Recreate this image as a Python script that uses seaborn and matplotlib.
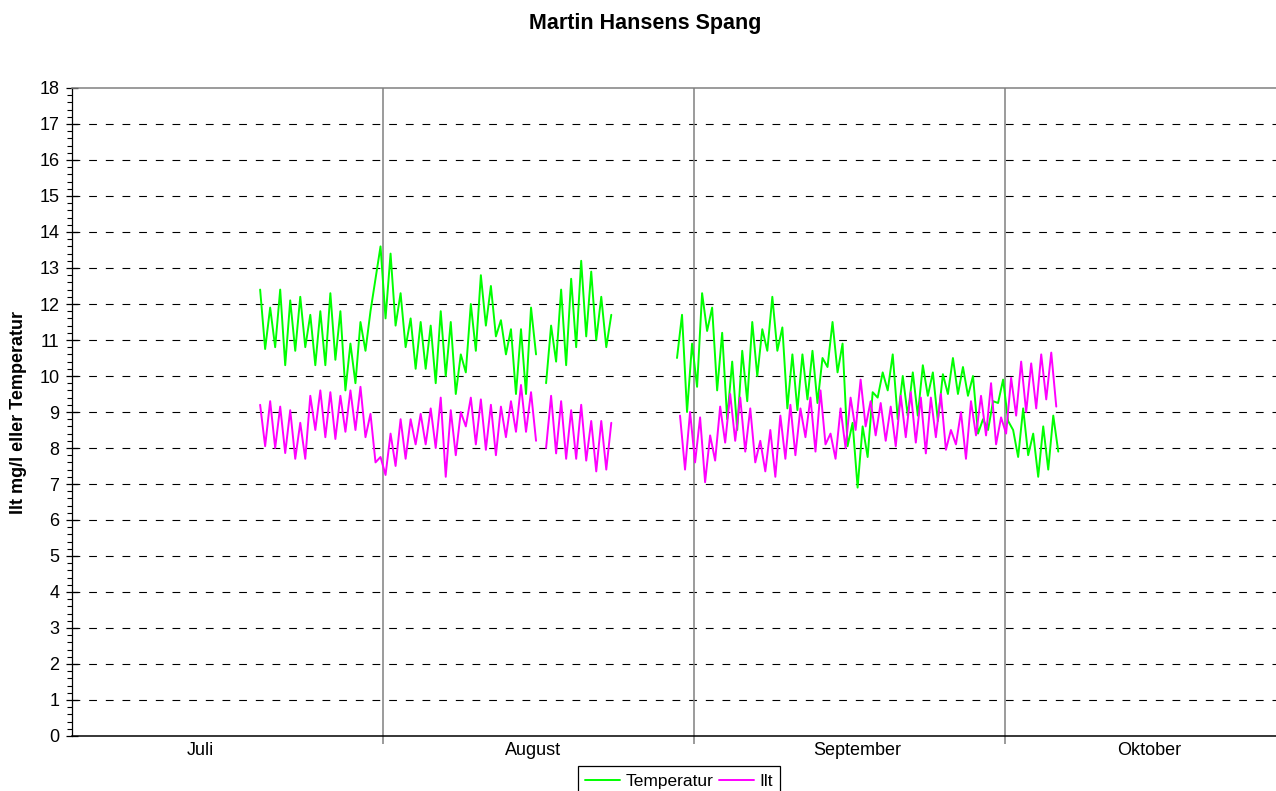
import numpy as np
import pandas as pd
import matplotlib
matplotlib.use("Agg")
import matplotlib.pyplot as plt
import seaborn as sns
from matplotlib.lines import Line2D
from matplotlib.ticker import MultipleLocator, FixedLocator

# ---------------------------------------------
# DATA  (days counted from 1 July, one value per 12 h)
# ---------------------------------------------
STEP = 0.5

temp_start_1 = 18.75
temp_1 = [12.4, 10.75, 11.9, 10.8, 12.4, 10.3, 12.1, 10.7, 12.2, 10.8,
          11.7, 10.3, 11.8, 10.3, 12.3, 10.45, 11.8, 9.6, 10.9, 9.8,
          11.5, 10.7, 11.8, 12.7, 13.6, 11.6, 13.4, 11.4, 12.3, 10.8,
          11.6, 10.2, 11.5, 10.2, 11.4, 9.8, 11.8, 10.0, 11.5, 9.5,
          10.6, 10.1, 12.0, 10.7, 12.8, 11.4, 12.5, 11.1, 11.55, 10.6,
          11.3, 9.5, 11.3, 9.5, 11.9, 10.6, np.nan, 9.8, 11.4, 10.4,
          12.4, 10.3, 12.7, 10.8, 13.2, 11.1, 12.9, 11.0, 12.2, 10.8,
          11.7]

ilt_start_1 = 18.75
ilt_1 = [9.2, 8.05, 9.3, 8.0, 9.15, 7.86, 9.05, 7.7, 8.7, 7.7,
         9.45, 8.5, 9.6, 8.3, 9.55, 8.25, 9.45, 8.45, 9.6, 8.5,
         9.7, 8.3, 8.95, 7.6, 7.75, 7.25, 8.4, 7.5, 8.8, 7.7,
         8.8, 8.1, 8.95, 8.1, 9.1, 8.0, 9.4, 7.2, 9.05, 7.8,
         9.0, 8.6, 9.4, 8.1, 9.35, 7.95, 9.2, 7.8, 9.15, 8.3,
         9.3, 8.45, 9.75, 8.45, 9.55, 8.2, np.nan, 8.0, 9.45, 7.85,
         9.3, 7.7, 9.05, 7.7, 9.2, 7.65, 8.75, 7.35, 8.75, 7.4,
         8.7]

temp_start_2 = 60.3
temp_2 = [10.5, 11.7, 9.0, 10.9, 9.7, 12.3, 11.25, 11.9, 9.6, 11.2,
          8.8, 10.4, 8.5, 10.7, 9.3, 11.5, 10.0, 11.3, 10.7, 12.2,
          10.7, 11.35, 9.1, 10.6, 9.05, 10.6, 9.35, 10.7, 9.25, 10.5,
          10.25, 11.5, 10.1, 10.9, 8.05, 8.7, 6.9, 8.6, 7.75, 9.55,
          9.4, 10.1, 9.6, 10.6, 8.8, 10.0, 8.9, 10.1, 8.9, 10.3,
          9.45, 10.1, 8.75, 10.05, 9.5, 10.5, 9.5, 10.25, 9.45, 10.0,
          8.4, 8.8, 8.5, 9.3, 9.25, 9.9, 8.75, 8.5, 7.75, 9.1,
          7.8, 8.4, 7.2, 8.6, 7.4, 8.9, 7.9]

ilt_start_2 = 60.6
ilt_2 = [8.9, 7.4, 9.0, 7.6, 8.85, 7.05, 8.35, 7.65, 9.15, 8.15,
         9.5, 8.2, 9.4, 7.9, 9.1, 7.6, 8.2, 7.35, 8.5, 7.2,
         8.9, 7.7, 9.2, 7.8, 9.1, 8.3, 9.4, 7.9, 9.6, 8.1,
         8.4, 7.7, 9.1, 8.0, 9.4, 8.5, 9.9, 8.6, 9.3, 8.35,
         9.25, 8.2, 9.15, 8.05, 9.45, 8.3, 9.55, 8.15, 9.4, 7.85,
         9.4, 8.3, 9.5, 7.95, 8.5, 8.1, 9.0, 7.7, 9.3, 8.35,
         9.45, 8.35, 9.8, 8.1, 8.85, 8.4, 9.95, 8.9, 10.4, 9.0,
         10.35, 9.1, 10.6, 9.35, 10.65, 9.15]

month_edges = [31, 62, 93]
month_names = ["Juli", "August", "September", "Oktober"]
month_label_pos = [12.76, 45.95, 78.25, 107.36]

COLORS = {"Temperatur": "#00FF00", "Ilt": "#FF00FF"}


def series_frame(name, start, values, tag):
    vals = np.array(values, dtype=float)
    days = start + STEP * np.arange(len(vals))
    breaks = np.cumsum(np.isnan(vals))
    frame = pd.DataFrame({"dag": days, "vaerdi": vals, "serie": name,
                          "del": [f"{tag}-{b}" for b in breaks]})
    return frame.dropna()


df = pd.concat([
    series_frame("Temperatur", temp_start_1, temp_1, "t1"),
    series_frame("Ilt", ilt_start_1, ilt_1, "i1"),
    series_frame("Temperatur", temp_start_2, temp_2, "t2"),
    series_frame("Ilt", ilt_start_2, ilt_2, "i2"),
], ignore_index=True)

# ---------------------------------------------
# PLOT
# ---------------------------------------------
sns.set_style("white")
plt.rcParams["font.family"] = ["Liberation Sans", "DejaVu Sans"]
plt.rcParams["text.color"] = "black"
plt.rcParams["xtick.color"] = "black"
plt.rcParams["ytick.color"] = "black"

fig = plt.figure(figsize=(12.76, 7.91), dpi=100)
ax = fig.add_axes([72 / 1276, 1 - 736 / 791, 1 - 72 / 1276, (736 - 88) / 791])

# dashed horizontal grid + month separators
for v in range(1, 18):
    ax.axhline(v, color="black", lw=0.8, ls=(0, (7, 8)), zorder=0)
for d in month_edges:
    ax.axvline(d, color="#808080", lw=1.1, zorder=0)

sns.lineplot(data=df, x="dag", y="vaerdi", hue="serie", units="del",
             estimator=None, sort=False, palette=COLORS, lw=1.4,
             legend=False, ax=ax)

ax.set_xlim(0, 120)
ax.set_ylim(0, 18)
ax.set_xlabel("")
ax.set_ylabel("")

# y axis: major every 1, minor every 0.2
ax.yaxis.set_major_locator(MultipleLocator(1))
ax.yaxis.set_minor_locator(MultipleLocator(0.2))
ax.tick_params(axis="y", which="major", direction="inout", length=8, width=0.9,
               color="black", labelcolor="black", labelsize=13, pad=5, left=True)
ax.tick_params(axis="y", which="minor", direction="out", length=3.5, width=0.8,
               color="black", left=True)

# x axis: month edge ticks, labels between
ax.xaxis.set_major_locator(FixedLocator(month_edges))
ax.xaxis.set_minor_locator(FixedLocator(month_label_pos))
ax.set_xticklabels([], minor=False)
ax.set_xticklabels(month_names, minor=True)
ax.tick_params(axis="x", which="major", direction="out", length=6, width=1.1,
               color="#808080", bottom=True)
ax.tick_params(axis="x", which="minor", length=0, labelsize=13, pad=4,
               labelcolor="black")

ax.spines["left"].set_color("black")
ax.spines["left"].set_linewidth(0.9)
ax.spines["bottom"].set_color("black")
ax.spines["bottom"].set_linewidth(1.1)
ax.spines["top"].set_color("#808080")
ax.spines["top"].set_linewidth(1.1)
ax.spines["right"].set_visible(False)

fig.text(645 / 1276, 1 - 23 / 791, "Martin Hansens Spang", ha="center", va="center",
         fontsize=15.5, fontweight="bold", color="black")
fig.text(19 / 1276, 1 - 412 / 791, "Ilt mg/l eller Temperatur", ha="center", va="center",
         rotation=90, fontsize=13, fontweight="bold", color="black")

handles = [Line2D([], [], color=COLORS["Temperatur"], lw=1.4),
           Line2D([], [], color=COLORS["Ilt"], lw=1.4)]
leg = fig.legend(handles, ["Temperatur", "Ilt"], loc="upper center",
                 bbox_to_anchor=(679 / 1276, 1 - 766 / 791), ncol=2, fontsize=12.5,
                 frameon=True, fancybox=False, shadow=False, borderpad=0.45,
                 borderaxespad=0, handlelength=2.0, handletextpad=0.3,
                 columnspacing=0.35)
leg.get_frame().set_edgecolor("black")
leg.get_frame().set_linewidth(0.9)
leg.get_frame().set_alpha(1)

plt.savefig("out.png", dpi=100)
plt.close()
